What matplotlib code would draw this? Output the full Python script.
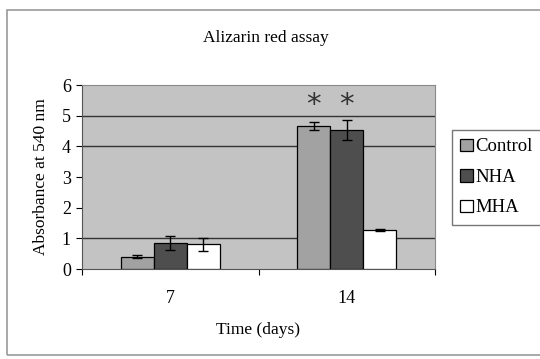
import matplotlib
matplotlib.use("Agg")
import matplotlib.pyplot as plt
from matplotlib.patches import Rectangle
import numpy as np

categories = ["7", "14"]
series = ["Control", "NHA", "MHA"]
values = {
    "Control": [0.40, 4.67],
    "NHA": [0.85, 4.53],
    "MHA": [0.80, 1.27],
}
errors = {
    "Control": [0.05, 0.13],
    "NHA": [0.22, 0.33],
    "MHA": [0.20, 0.04],
}
colors = {"Control": "#a2a2a2", "NHA": "#4e4e4e", "MHA": "#ffffff"}
star_positions = [("Control", 1), ("NHA", 1)]
star_y = 5.35

plt.rcParams["font.family"] = ["Liberation Serif", "DejaVu Serif"]

fig = plt.figure(figsize=(5.4, 3.59), dpi=100)
fig.patch.set_facecolor("white")
# outer chart frame
fig.add_artist(Rectangle((7/540, 4/359), 540/540, 345/359, transform=fig.transFigure,
                         fill=False, edgecolor="#9a9a9a", linewidth=1.2))

ax = fig.add_axes([82/540, 1-269/359, (435-82)/540, (269-85)/359])
ax.set_facecolor("#c3c3c3")

x = np.arange(len(categories))
w = 0.187
for i, s in enumerate(series):
    pos = x + (i - 1) * w
    ax.bar(pos, values[s], w, color=colors[s], edgecolor="black", linewidth=0.9,
           label=s, zorder=3)
    ax.errorbar(pos, values[s], yerr=errors[s], fmt="none", ecolor="black",
                elinewidth=1.0, capsize=3.5, capthick=1.0, zorder=4)

for s, ci in star_positions:
    i = series.index(s)
    ax.text(x[ci] + (i - 1) * w, star_y, "*", ha="center", va="center",
            fontsize=21, color="#333333", family="DejaVu Sans")

for gy in [1, 4, 5]:
    ax.axhline(gy, color="#333333", linewidth=1.0, zorder=1)

ax.set_xlim(-0.5, 1.5)
ax.set_ylim(0, 6)
ax.set_yticks(range(0, 7))
ax.set_xticks([-0.5, 0.5, 1.5])
ax.set_xticklabels([])
ax.set_xticks(x, minor=True)
ax.set_xticklabels(categories, minor=True, fontsize=13)
ax.tick_params(axis="x", which="minor", length=0, pad=15)
ax.tick_params(axis="x", which="major", length=4, direction="out")
ax.tick_params(axis="y", length=4, direction="out", labelsize=13, pad=4)

for sp in ["top", "right"]:
    ax.spines[sp].set_color("#8a8a8a")
for sp in ["left", "bottom"]:
    ax.spines[sp].set_color("#555555")

ax.set_ylabel("Absorbance at 540 nm", fontsize=12.5, labelpad=9)
ax.set_xlabel("Time (days)", fontsize=12.5, labelpad=11)
fig.text(266/540, 1-38/359, "Alizarin red assay", ha="center",
         va="center", fontsize=12.5)

leg = fig.legend(loc="upper left", bbox_to_anchor=(452/540, 1-130/359),
                 fontsize=13.5, frameon=True, fancybox=False, edgecolor="#555555",
                 handlelength=0.65, handleheight=0.65, handletextpad=0.15,
                 labelspacing=0.72, borderpad=0.45, borderaxespad=0)
leg.get_frame().set_linewidth(1.0)

fig.savefig("out.png", dpi=100)
